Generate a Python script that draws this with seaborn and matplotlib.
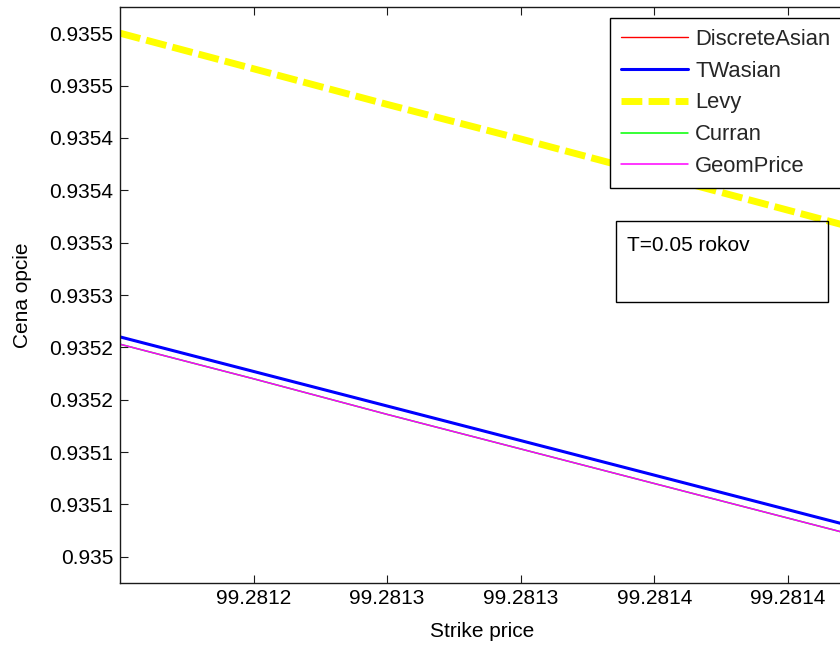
import matplotlib
matplotlib.use("Agg")
import matplotlib.pyplot as plt
from matplotlib.patches import Rectangle
from matplotlib.ticker import FixedLocator, FixedFormatter
import seaborn as sns
import pandas as pd

# ---- data ----
strike = [99.28115, 99.28120, 99.28125, 99.28130, 99.28135, 99.28140, 99.28145]
discrete_asian = [0.935210, 0.935177, 0.935144, 0.935111, 0.935078, 0.935045, 0.935012]
twasian = [0.935210, 0.935177, 0.935144, 0.935111, 0.935078, 0.935045, 0.935012]
levy = [0.935500, 0.935466, 0.935432, 0.935399, 0.935365, 0.935331, 0.935297]
curran = [0.935203, 0.935170, 0.935136, 0.935103, 0.935070, 0.935037, 0.935004]
geom_price = [0.935203, 0.935170, 0.935136, 0.935103, 0.935070, 0.935037, 0.935004]

series_names = ["DiscreteAsian", "TWasian", "Levy", "Curran", "GeomPrice"]
series_values = [discrete_asian, twasian, levy, curran, geom_price]

xtick_values = [99.28120, 99.28125, 99.28130, 99.28135, 99.28140]
xtick_labels = ["99.2812", "99.2813", "99.2813", "99.2814", "99.2814"]
ytick_values = [0.93500, 0.93505, 0.93510, 0.93515, 0.93520, 0.93525,
                0.93530, 0.93535, 0.93540, 0.93545, 0.93550]
ytick_labels = ["0.935", "0.9351", "0.9351", "0.9352", "0.9352", "0.9353",
                "0.9353", "0.9354", "0.9354", "0.9355", "0.9355"]

xlabel = "Strike price"
ylabel = "Cena opcie"
note = "T=0.05 rokov"

# ---- style ----
sns.set_style("white")
plt.rcParams["font.family"] = ["Liberation Sans", "DejaVu Sans"]
FS = 15
LFS = 15.8

W, H, DPI = 840, 645, 100
fig = plt.figure(figsize=(W / DPI, H / DPI), dpi=DPI)

# axes in pixel units
ax_l, ax_r, ax_t, ax_b = 120, 868, 7, 583
ax = fig.add_axes([ax_l / W, 1 - ax_b / H, (ax_r - ax_l) / W, (ax_b - ax_t) / H])

styles = {
    "DiscreteAsian": dict(color="#ff0000", linewidth=1.0),
    "TWasian": dict(color="#0000ff", linewidth=2.2),
    "Levy": dict(color="#ffff00", linewidth=5.0, linestyle=(0, (3.0, 0.9)),
                 dash_capstyle="butt"),
    "Curran": dict(color="#00ff00", linewidth=1.1),
    "GeomPrice": dict(color="#ff00ff", linewidth=1.1),
}

df = pd.DataFrame({"strike": strike})
for name, vals in zip(series_names, series_values):
    df[name] = vals

for name in series_names:
    sns.lineplot(data=df, x="strike", y=name, ax=ax, label=name, **styles[name])

ax.set_xlim(99.28115, 99.28143)
ax.set_ylim(0.934975, 0.935525)

ax.xaxis.set_major_locator(FixedLocator(xtick_values))
ax.xaxis.set_major_formatter(FixedFormatter(xtick_labels))
ax.yaxis.set_major_locator(FixedLocator(ytick_values))
ax.yaxis.set_major_formatter(FixedFormatter(ytick_labels))

ax.tick_params(axis="both", direction="in", length=5.8, width=0.8,
               colors="#1a1a1a", labelcolor="black", labelsize=FS,
               top=True, right=True, left=True, bottom=True)
ax.tick_params(axis="y", pad=5)
ax.tick_params(axis="x", pad=4.3)
for sp in ax.spines.values():
    sp.set_visible(True)
    sp.set_color("#1a1a1a")
    sp.set_linewidth(1.0)

ax.set_xlabel("")
ax.set_ylabel("")
fig.text(482.5 / W, 1 - 637 / H, xlabel, ha="center", va="baseline",
         fontsize=FS, color="black")
fig.text(23 / W, 1 - 295.5 / H, ylabel, ha="center", va="center",
         rotation=90, fontsize=FS, color="black")

leg = ax.legend(loc="upper left", bbox_to_anchor=(610 / W, 1 - 18 / H),
                bbox_transform=fig.transFigure, borderaxespad=0,
                fontsize=LFS, frameon=True, fancybox=False, framealpha=1,
                edgecolor="black", handlelength=3.06, handletextpad=0.32,
                labelspacing=0.49, borderpad=0.5)
leg.get_frame().set_linewidth(1.0)

# annotation textbox
fig.add_artist(Rectangle((616 / W, 1 - 302 / H), (828 - 616) / W, (302 - 221) / H,
                         transform=fig.transFigure, fill=False,
                         edgecolor="black", linewidth=1.0))
fig.text(627 / W, 1 - 251 / H, note, ha="left", va="baseline",
         fontsize=FS, color="black")

fig.savefig("out.png", dpi=DPI)
